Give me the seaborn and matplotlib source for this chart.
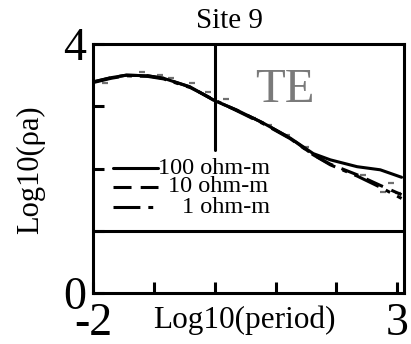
import numpy as np
import pandas as pd
import matplotlib
matplotlib.use("Agg")
import matplotlib.pyplot as plt
import seaborn as sns

# ---- data ----
log_period = [-2.0, -1.7, -1.45, -1.1, -0.84, -0.4, 0.0, 0.36, 0.8, 1.24, 1.62, 1.9, 2.34, 2.72, 3.07]
rho_100 = [3.39, 3.46, 3.50, 3.49, 3.45, 3.31, 3.09, 2.94, 2.73, 2.49, 2.24, 2.14, 2.03, 1.98, 1.86]
rho_10 = [3.39, 3.46, 3.50, 3.49, 3.45, 3.31, 3.09, 2.94, 2.73, 2.49, 2.22, 2.07, 1.90, 1.73, 1.58]
rho_1 = [3.38, 3.45, 3.49, 3.48, 3.44, 3.30, 3.10, 2.93, 2.72, 2.48, 2.22, 2.06, 1.88, 1.70, 1.52]

obs_period = [-1.80, -1.20, -0.90, -0.71, -0.38, -0.11, 0.19, 0.63, 0.90, 1.18, 1.50, 2.43, 2.76, 2.90, 3.01]
obs_rho = [3.38, 3.55, 3.51, 3.46, 3.38, 3.23, 3.11, 2.81, 2.70, 2.54, 2.35, 1.90, 1.63, 1.77, 1.60]

series_labels = ["100 ohm-m", "10 ohm-m", "1 ohm-m"]
x_tick_labels = ["-2", "", "", "", "", "3"]
y_tick_labels = ["0", "", "", "", "4"]

sns.set_theme(style="white")
plt.rcParams["font.family"] = ["Liberation Serif", "DejaVu Serif"]

fig = plt.figure(figsize=(4.11, 3.44), dpi=100)
ax = fig.add_axes([0.226, 0.148, 0.757, 0.724])

lw = 2.2
styles = ["-", (0, (5.9, 3.0)), (0, (8.8, 2.6, 1.6, 2.6))]
series = [rho_100, rho_10, rho_1]

df_obs = pd.DataFrame({"x": obs_period, "y": obs_rho})
sns.scatterplot(data=df_obs, x="x", y="y", marker="_", s=18, color="#707070",
                linewidth=1.6, ax=ax, legend=False, zorder=2)

for vals, ls, lab in zip(series, styles, series_labels):
    df = pd.DataFrame({"x": log_period, "y": vals})
    sns.lineplot(data=df, x="x", y="y", color="black", linewidth=lw,
                 linestyle=ls, ax=ax, legend=False, zorder=3, sort=False)

ax.set_xlim(-2, 3.11)
ax.set_ylim(0, 4)

# reference lines
ax.axhline(1, color="black", lw=lw, zorder=4)
ax.plot([0, 0], [2.30, 4], color="black", lw=lw, zorder=4)

ax.set_xticks([-2, -1, 0, 1, 2, 3])
ax.set_xticklabels(x_tick_labels)
ax.set_yticks([0, 1, 2, 3, 4])
ax.set_yticklabels(y_tick_labels)
ax.tick_params(axis="both", direction="in", length=8, width=lw, labelsize=33,
               colors="black", bottom=True, left=True)
ax.tick_params(axis="x", pad=7)
ax.tick_params(axis="y", pad=5)

for sp in ax.spines.values():
    sp.set_color("black")
    sp.set_linewidth(lw)

ax.set_xlabel("Log10(period)", fontsize=22.5, color="black")
ax.set_ylabel("Log10(ρa)", fontsize=22, color="black")
ax.xaxis.set_label_coords(0.487, -0.05)
ax.yaxis.set_label_coords(-0.155, 0.494)

ax.text(0.44, 1.064, "Site 9", transform=ax.transAxes, fontsize=21,
        ha="center", va="baseline", color="black")
ax.text(0.521, 0.767, "TE", transform=ax.transAxes, fontsize=35,
        ha="left", va="baseline", color="#7a7a7a")

# manual legend
leg_y = [0.502, 0.426, 0.345]
leg_tx = [0.209, 0.241, 0.286]
for ls, lab, yy, tx in zip(styles, series_labels, leg_y, leg_tx):
    ax.plot([0.064, 0.209], [yy, yy], transform=ax.transAxes, color="black",
            lw=lw, linestyle=ls, zorder=5)
    ax.text(tx, yy, lab, transform=ax.transAxes, fontsize=17.5,
            ha="left", va="center", color="black", zorder=5)

fig.savefig("out.png", dpi=100)
